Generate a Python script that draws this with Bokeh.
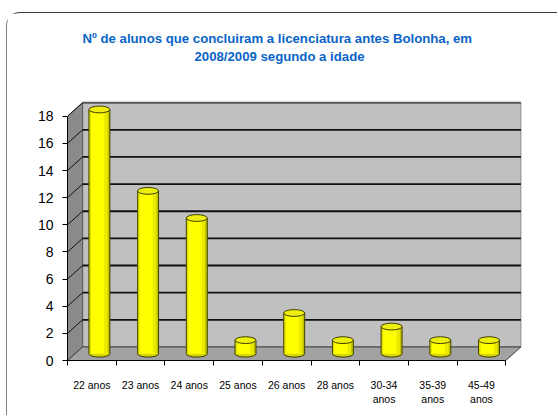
from bokeh.plotting import figure
from bokeh.models import Range1d, FixedTicker, Title, ColumnDataSource
from bokeh.embed import file_html
from bokeh.resources import INLINE

# ---- data ----
categories = ["22 anos", "23 anos", "24 anos", "25 anos", "26 anos",
              "28 anos", "30-34 anos", "35-39 anos", "45-49 anos"]
counts = [18, 12, 10, 1, 3, 1, 2, 1, 1]
y_ticks = [0, 2, 4, 6, 8, 10, 12, 14, 16, 18]
title_line1 = "Nº de alunos que concluiram a licenciatura antes Bolonha, em"
title_line2 = "2008/2009 segundo a idade"

# ---- 3D geometry (in data units) ----
n = len(categories)
DX = 0.31      # depth offset along x (category units)
DY = 1.0       # depth offset along y (value units)
YMAX = y_ticks[-1]
HW = 0.215     # cylinder half width
EH = 0.5       # ellipse height (value units)

FONT = "Liberation Sans"
TITLE_KW = dict(text_font=FONT, text_font_size="13.2px", text_font_style="bold",
                text_color="#0A64C8", align="left")

p = figure(frame_width=456, frame_height=261,
           x_range=Range1d(0, 456 / 48.7), y_range=Range1d(0, 261 / 13.57),
           min_border_left=60, min_border_right=34, min_border_bottom=55,
           min_border_top=86, output_backend="svg", toolbar_location=None,
           background_fill_color="white", border_fill_color="white")
p.outline_line_color = None
p.grid.visible = False
p.styles = {"margin-top": "12px", "margin-left": "6px",
            "border-top": "1.5px solid #3c3c3c",
            "border-left": "1.5px solid #808080",
            "border-top-left-radius": "14px"}

# titles (outermost: line 1, then line 2, then an empty spacer next to the plot)
p.title = Title(text=title_line1, offset=15, standoff=0, **TITLE_KW)
p.add_layout(Title(text=" ", text_font_size="1px", standoff=32), "above")
p.add_layout(Title(text=title_line2, offset=127, standoff=2, **TITLE_KW), "above")

# walls and floor
p.patch([DX, n + DX, n + DX, DX], [DY, DY, YMAX + DY, YMAX + DY],
        fill_color="#C0C0C0", line_color="#8A8A8A", line_width=1)
p.patch([0, DX, DX, 0], [0, DY, YMAX + DY, YMAX],
        fill_color="#8A8A8A", line_color="#5A5A5A", line_width=1)
p.patch([0, n, n + DX, DX], [0, 0, DY, DY],
        fill_color="#A2A2A2", line_color="#3A3A3A", line_width=1)
p.segment(x0=[DX], y0=[YMAX + DY], x1=[n + DX], y1=[YMAX + DY],
          line_color="#5A5A5A", line_width=2)

grid_vals = y_ticks[1:-1]
p.segment(x0=[DX] * len(grid_vals), y0=[t + DY for t in grid_vals],
          x1=[n + DX] * len(grid_vals), y1=[t + DY for t in grid_vals],
          line_color="#111111", line_width=1.8)
diag_vals = y_ticks[1:]
p.segment(x0=[0] * len(diag_vals), y0=diag_vals,
          x1=[DX] * len(diag_vals), y1=[t + DY for t in diag_vals],
          line_color="#111111", line_width=1)

# cylinders
cx = [i + 0.5 + DX / 2 for i in range(n)]
src = ColumnDataSource(dict(
    x=cx,
    base=[DY / 2] * n,
    top=[v + DY / 2 for v in counts],
    l=[c - HW for c in cx],
    r=[c + HW for c in cx],
    l2=[c - HW * 0.8 for c in cx],
    r1=[c + HW * 0.45 for c in cx],
    r2=[c + HW * 0.78 for c in cx],
))
p.ellipse(x="x", y="base", width=2 * HW, height=EH, source=src,
          fill_color="#D8D800", line_color="#3F3F00", line_width=1)
p.quad(left="l", right="r", bottom="base", top="top", source=src,
       fill_color="#FFFF00", line_color=None)
p.quad(left="l", right="l2", bottom="base", top="top", source=src,
       fill_color="#E2E200", line_color=None)
p.quad(left="r1", right="r2", bottom="base", top="top", source=src,
       fill_color="#EAEA00", line_color=None)
p.quad(left="r2", right="r", bottom="base", top="top", source=src,
       fill_color="#C2C200", line_color=None)
p.segment(x0="l", y0="base", x1="l", y1="top", source=src,
          line_color="#3F3F00", line_width=1)
p.segment(x0="r", y0="base", x1="r", y1="top", source=src,
          line_color="#3F3F00", line_width=1)
p.ellipse(x="x", y="top", width=2 * HW, height=EH, source=src,
          fill_color="#EEEE10", line_color="#3F3F00", line_width=1)

# axes
p.yaxis.ticker = FixedTicker(ticks=y_ticks)
p.yaxis.bounds = (0, YMAX)
p.yaxis.major_tick_out = 5
p.yaxis.major_tick_in = 0
p.yaxis.minor_tick_out = 0
p.yaxis.major_label_standoff = 9
p.yaxis.major_label_text_font = FONT
p.yaxis.major_label_text_font_size = "14px"
p.yaxis.major_label_text_color = "black"
p.yaxis.axis_line_color = "black"

centers = [i + 0.5 for i in range(n)]
p.xaxis.ticker = FixedTicker(ticks=centers, minor_ticks=list(range(n + 1)))
p.xaxis.bounds = (0, n)
p.xaxis.major_label_overrides = {
    c: (lab.replace(" ", "\n") if "-" in lab else lab)
    for c, lab in zip(centers, categories)}
p.xaxis.major_tick_out = 0
p.xaxis.major_tick_in = 0
p.xaxis.minor_tick_out = 5
p.xaxis.minor_tick_in = 0
p.xaxis.minor_tick_line_color = "black"
p.xaxis.major_label_standoff = 13
p.xaxis.major_label_text_font = FONT
p.xaxis.major_label_text_font_size = "10.5px"
p.xaxis.major_label_text_color = "black"
p.xaxis.axis_line_color = "black"

open("out.html", "w").write(file_html(p, INLINE))
